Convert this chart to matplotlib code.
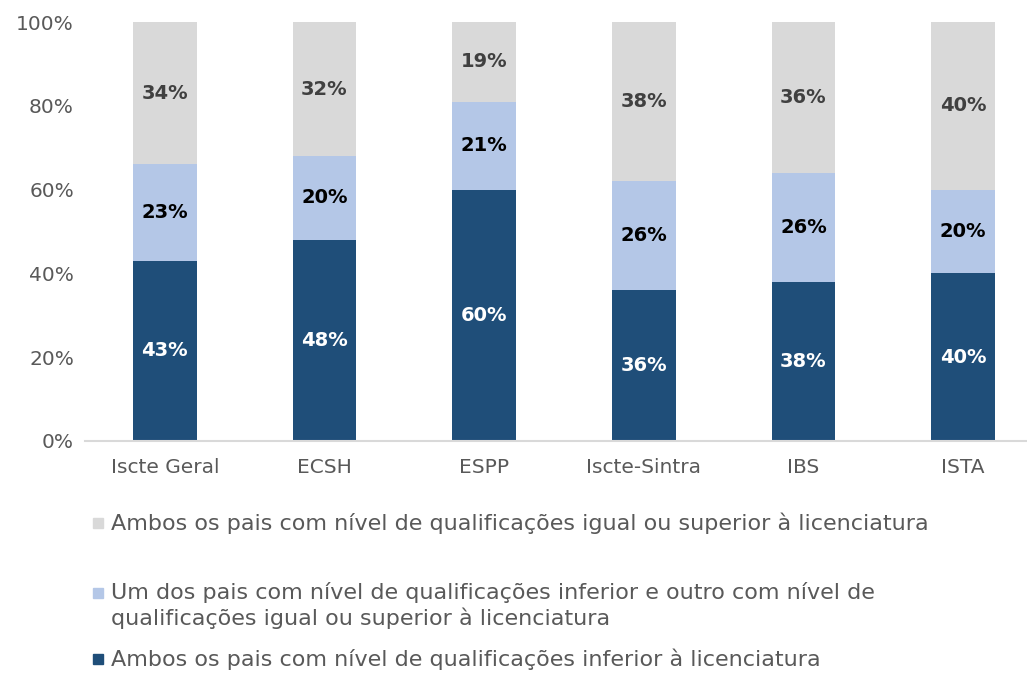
import matplotlib.pyplot as plt
import numpy as np
from matplotlib.patches import Rectangle

categories = ["Iscte Geral", "ECSH", "ESPP", "Iscte-Sintra", "IBS", "ISTA"]
ambos_inferior = [43, 48, 60, 36, 38, 40]
um_dos_pais = [23, 20, 21, 26, 26, 20]
ambos_superior = [34, 32, 19, 38, 36, 40]

series_labels = [
    "Ambos os pais com nível de qualificações inferior à licenciatura",
    "Um dos pais com nível de qualificações inferior e outro com nível de\nqualificações igual ou superior à licenciatura",
    "Ambos os pais com nível de qualificações igual ou superior à licenciatura",
]

DARK = "#1F4E79"
LIGHT = "#B4C7E7"
GRAY = "#D9D9D9"
TXT = "#595959"

plt.rcParams["font.family"] = ["DejaVu Sans"]

fig = plt.figure(figsize=(10.27, 6.73), dpi=100)
ax = fig.add_axes([85 / 1027, 1 - 441 / 673, (1027 - 85) / 1027, (441 - 22) / 673])

x = np.arange(len(categories))
w = 0.4
b1 = np.array(ambos_inferior)
b2 = np.array(um_dos_pais)
b3 = np.array(ambos_superior)
ax.bar(x, b1, w, color=DARK)
ax.bar(x, b2, w, bottom=b1, color=LIGHT)
ax.bar(x, b3, w, bottom=b1 + b2, color=GRAY)

for i in x:
    ax.text(i, b1[i] / 2, f"{b1[i]}%", ha="center", va="center", color="white",
            fontsize=14, fontweight="bold")
    ax.text(i, b1[i] + b2[i] / 2, f"{b2[i]}%", ha="center", va="center", color="black",
            fontsize=14, fontweight="bold")
    ax.text(i, b1[i] + b2[i] + b3[i] / 2, f"{b3[i]}%", ha="center", va="center",
            color="#404040", fontsize=14, fontweight="bold")

ax.set_xlim(-0.5, 5.4)
ax.set_ylim(0, 100)
ax.set_yticks(range(0, 101, 20))
ax.set_yticklabels([f"{v}%" for v in range(0, 101, 20)])
ax.set_xticks(x)
ax.set_xticklabels(categories)
ax.tick_params(axis="both", length=0, labelsize=14.5, labelcolor=TXT)
ax.tick_params(axis="x", pad=12)
ax.tick_params(axis="y", pad=8)
for s in ["top", "right", "left"]:
    ax.spines[s].set_visible(False)
ax.spines["bottom"].set_color("#D9D9D9")
ax.spines["bottom"].set_linewidth(1.5)

# legend, drawn below the plot in reverse order
legend_rows = [(523, GRAY, series_labels[2]), (593, LIGHT, series_labels[1]), (659, DARK, series_labels[0])]
for ypx, col, lab in legend_rows:
    yf = 1 - ypx / 673
    fig.patches.append(Rectangle((93 / 1027, yf - 5 / 673), 10 / 1027, 10 / 673,
                                 transform=fig.transFigure, color=col))
    fig.text(111 / 1027, yf + 11 / 673, lab, ha="left", va="top", fontsize=16,
             color=TXT, linespacing=1.25)

fig.savefig("out.png", dpi=100)
